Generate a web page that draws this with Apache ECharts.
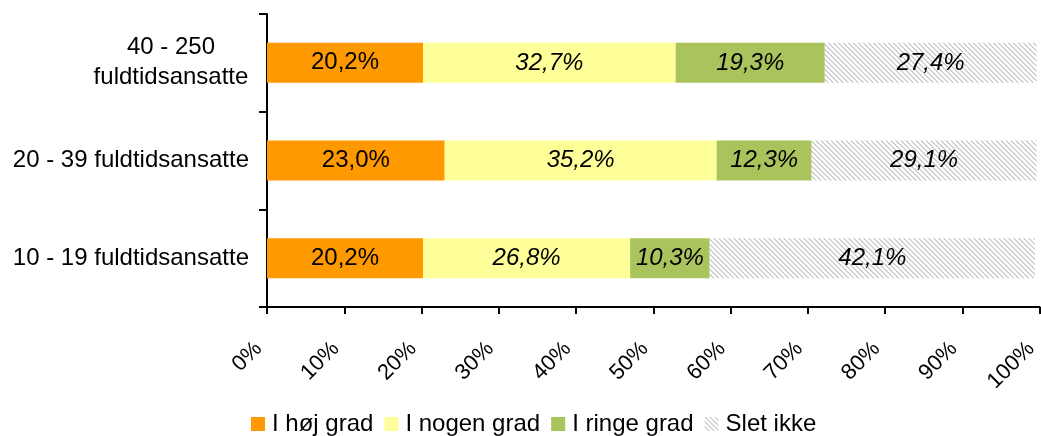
<!DOCTYPE html>
<html>
<head>
<meta charset="utf-8">
<script src="https://cdn.jsdelivr.net/npm/echarts@6/dist/echarts.min.js"></script>
<style>html,body{margin:0;padding:0;background:#fff;overflow:hidden}#c{width:1041px;height:436px}</style>
</head>
<body>
<div id="c"></div>
<script>
const categories = ['10 - 19 fuldtidsansatte', '20 - 39 fuldtidsansatte', '40 - 250\nfuldtidsansatte'];
const seriesNames = ['I høj grad', 'I nogen grad', 'I ringe grad', 'Slet ikke'];
const hoejGrad = [20.2, 23.0, 20.2];
const nogenGrad = [26.8, 35.2, 32.7];
const ringeGrad = [10.3, 12.3, 19.3];
const sletIkke = [42.1, 29.1, 27.4];
const xTicks = [0, 10, 20, 30, 40, 50, 60, 70, 80, 90, 100];

function makeHatch() {
  const c = document.createElement('canvas');
  c.width = 5; c.height = 5;
  const g = c.getContext('2d');
  g.fillStyle = '#ffffff'; g.fillRect(0, 0, 5, 5);
  g.fillStyle = '#cfcfcf';
  for (let i = 0; i < 5; i++) { g.fillRect(i, i, 1, 1); g.fillRect((i + 1) % 5, i, 1, 1); }
  return c;
}
function makeDots() {
  const c = document.createElement('canvas');
  c.width = 2; c.height = 2;
  const g = c.getContext('2d');
  g.fillStyle = '#a2c34f'; g.fillRect(0, 0, 2, 2);
  g.fillStyle = '#b2c46a'; g.fillRect(0, 0, 1, 1); g.fillRect(1, 1, 1, 1);
  return c;
}
const colors = ['#FF9900', '#FFFF99', { image: makeDots(), repeat: 'repeat' }, { image: makeHatch(), repeat: 'repeat' }];
const values = [hoejGrad, nogenGrad, ringeGrad, sletIkke];
const FONT = 'Liberation Sans, Arial, sans-serif';

const chart = echarts.init(document.getElementById('c'), null, { renderer: 'canvas', width: 1041, height: 436 });
chart.setOption({
  animation: false,
  textStyle: { fontFamily: FONT },
  grid: { left: 267, width: 773, top: 14, height: 293, containLabel: false },
  legend: {
    left: 246, top: 407,
    itemWidth: 14, itemHeight: 14, itemGap: 11,
    icon: 'rect',
    textStyle: { fontSize: 24, color: '#000', fontFamily: FONT, padding: [0, 0, 0, 2] },
    data: seriesNames
  },
  xAxis: {
    type: 'value', min: 0, max: 100, interval: 10,
    axisLine: { show: true, lineStyle: { color: '#000', width: 2 } },
    axisTick: { show: true, length: 7, lineStyle: { color: '#000', width: 2 } },
    splitLine: { show: false },
    axisLabel: {
      rotate: 45, margin: 30, fontSize: 22, color: '#000', fontFamily: FONT,
      padding: [0, 12, 0, 0],
      formatter: v => xTicks.includes(v) ? v + '%' : ''
    }
  },
  yAxis: {
    type: 'category', data: categories,
    axisLine: { show: true, lineStyle: { color: '#000', width: 2 } },
    axisTick: { show: true, length: 8, lineStyle: { color: '#000', width: 2 } },
    axisLabel: {
      margin: 18, fontSize: 24, color: '#000', fontFamily: FONT, lineHeight: 30,
      formatter: v => v.indexOf('\n') >= 0 ? v.split('\n').map(s => '{c|' + s + '}').join('\n') : v,
      rich: { c: { width: 156, align: 'center', fontSize: 24, lineHeight: 30, fontFamily: FONT, color: '#000' } }
    }
  },
  series: seriesNames.map((name, i) => ({
    name, type: 'bar', stack: 'total', barWidth: 40,
    data: values[i],
    itemStyle: { color: colors[i] },
    label: {
      show: true, position: 'inside', color: '#000', fontSize: 24, fontFamily: FONT,
      fontStyle: i === 0 ? 'normal' : 'italic',
      formatter: p => p.value.toFixed(1).replace('.', ',') + '%'
    }
  }))
});
</script>
</body>
</html>
